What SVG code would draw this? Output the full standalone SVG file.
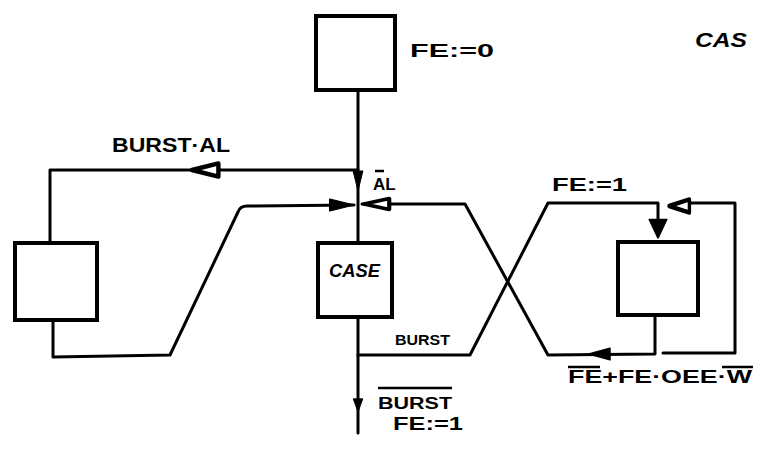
<svg xmlns="http://www.w3.org/2000/svg" width="757" height="452" viewBox="0 0 757 452">
<style>
.ln{fill:none;stroke:#000;stroke-width:3;stroke-linecap:round;stroke-linejoin:round}
.box{fill:#fff;stroke:#000;stroke-width:4}
.t{font-family:"Liberation Sans",Arial,sans-serif;font-weight:bold;fill:#000}
.ov{stroke:#000;stroke-width:2.5;fill:none}
.fa{fill:#000;stroke:#000;stroke-width:1.5;stroke-linejoin:round}
.ha{fill:#fff;stroke:#000;stroke-width:4;stroke-linejoin:round}
</style>
<defs>
<path id="fa" d="M0,0 L-22,-8 L-22,8 Z"/>
<path id="ha" d="M0,0 L-24,-6 L-24,6 Z"/>
</defs>
<rect width="757" height="452" fill="#fff"/>
<g id="connectors">
<path class="ln" d="M358,90 L358,243"/>
<path class="ln" d="M358,170 L50,170 L50,242"/>
<path class="ln" d="M53,320 L53,357 L170,355 L238,212 Q240,206 247,206 L354,205"/>
<path class="ln" d="M362,204 L465,204 L548,355 L655,354 L655,316"/>
<path class="ln" d="M358,355 L470,355 L548,203 L658,203 L658,234"/>
<path class="ln" d="M663,353 L735,353 L735,203 L688,203"/>
<path class="ln" d="M358,317 L358,433"/>
<use href="#ha" class="ha" transform="translate(192,170) rotate(180) scale(1.1,1.1)"/>
<use href="#fa" class="fa" transform="translate(358,191) rotate(90) scale(0.9,0.6)"/>
<use href="#fa" class="fa" transform="translate(354,205) scale(1.1,0.75)"/>
<use href="#ha" class="ha" transform="translate(364,204) rotate(180) scale(1.05,0.9)"/>
<use href="#fa" class="fa" transform="translate(658,238) rotate(90) scale(0.85,1.1)"/>
<use href="#ha" class="ha" transform="translate(669,206) rotate(180) scale(0.85,1.1)"/>
<use href="#fa" class="fa" transform="translate(588,354) rotate(180) scale(1,0.75)"/>
<use href="#fa" class="fa" transform="translate(358,412) rotate(90) scale(0.6,0.6)"/>
</g>
<g id="top-step">
<rect class="box" x="316" y="16" width="79" height="74"/>
<text class="t" x="410" y="57" font-size="19" textLength="84" lengthAdjust="spacingAndGlyphs">FE:=0</text>
</g>
<g id="left-step">
<rect class="box" x="15" y="243" width="82" height="77" stroke-width="5"/>
</g>
<g id="case-step">
<rect class="box" x="318" y="243" width="74" height="74"/>
<text class="t" x="329" y="277" font-size="18" font-style="italic" textLength="51" lengthAdjust="spacingAndGlyphs">CASE</text>
</g>
<g id="right-step">
<rect class="box" x="618" y="242" width="80" height="73"/>
</g>
<g id="labels">
<text class="t" x="695" y="47" font-size="21" font-style="italic" textLength="52" lengthAdjust="spacingAndGlyphs">CAS</text>
<text class="t" x="112" y="152" font-size="20" textLength="118" lengthAdjust="spacingAndGlyphs">BURST·AL</text>
<text class="t" x="373" y="190" font-size="17">AL</text>
<path class="ov" d="M375,171 L384,171"/>
<text class="t" x="552" y="191" font-size="18" textLength="75" lengthAdjust="spacingAndGlyphs">FE:=1</text>
<text class="t" x="395" y="345" font-size="14" textLength="55" lengthAdjust="spacingAndGlyphs">BURST</text>
<text class="t" x="378" y="409" font-size="16" textLength="74" lengthAdjust="spacingAndGlyphs">BURST</text>
<path class="ov" d="M378,388 L452,388"/>
<text class="t" x="393" y="430" font-size="18" textLength="70" lengthAdjust="spacingAndGlyphs">FE:=1</text>
<text class="t" x="568" y="383" font-size="18" textLength="184" lengthAdjust="spacingAndGlyphs">FE+FE·OEE·W</text>
<path class="ov" d="M568,367 L600,367 M722,367 L753,367"/>
</g>
</svg>
